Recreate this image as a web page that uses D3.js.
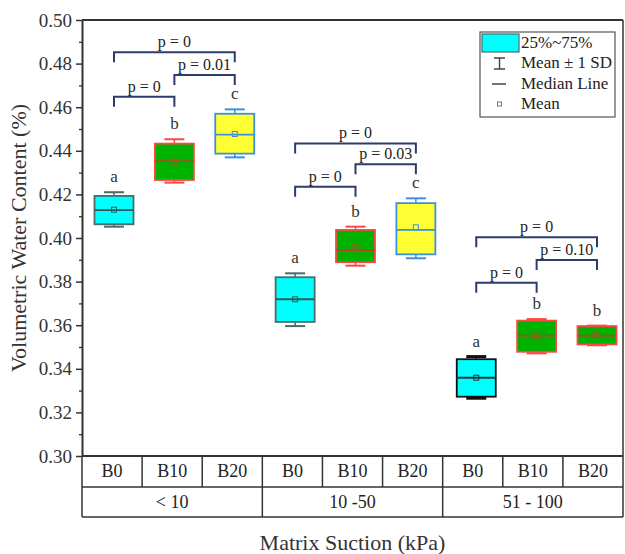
<!DOCTYPE html>
<html>
<head>
<meta charset="utf-8">
<script src="https://cdn.jsdelivr.net/npm/d3@7"></script>
<style>
body{margin:0;background:#fff;}
svg{display:block;}
</style>
</head>
<body>
<div id="chart"></div>
<script>
// ---- data ----
var groups=["< 10","10 -50","51 - 100"];
var treatments=["B0","B10","B20"];
var q1    =[0.4063,0.4266,0.4387, 0.3615,0.3889,0.3925, 0.3272,0.3478,0.3512];
var q3    =[0.4193,0.4433,0.4570, 0.3820,0.4037,0.4160, 0.3444,0.3621,0.3596];
var median=[0.4128,0.4353,0.4474, 0.3719,0.3945,0.4037, 0.3359,0.3552,0.3552];
var mean  =[0.4130,0.4350,0.4477, 0.3719,0.3960,0.4049, 0.3359,0.3552,0.3554];
var sdLow =[0.4052,0.4254,0.4370, 0.3596,0.3873,0.3907, 0.3265,0.3471,0.3508];
var sdHigh=[0.4210,0.4453,0.4590, 0.3838,0.4052,0.4182, 0.3456,0.3628,0.3598];
var letters=["a","b","c","a","b","c","a","b","b"];
// brackets: [from box, to box, level, text]
var brackets=[
  [0,1,0.4648,"p = 0"],[1,2,0.4748,"p = 0.01"],[0,2,0.4852,"p = 0"],
  [3,4,0.4235,"p = 0"],[4,5,0.4338,"p = 0.03"],[3,5,0.4434,"p = 0"],
  [6,7,0.3795,"p = 0"],[7,8,0.3899,"p = 0.10"],[6,8,0.4003,"p = 0"]
];
var yTicks=[0.30,0.32,0.34,0.36,0.38,0.40,0.42,0.44,0.46,0.48,0.50];
var legendItems=["25%~75%","Mean \u00b1 1 SD","Median Line","Mean"];

// styles per box
var fills  =["#00ffff","#00b300","#ffff33","#00ffff","#00b300","#ffff33","#00ffff","#00b300","#00b300"];
var strokes=["#4a6b6b","#ff4545","#3d8fe0","#4a6b6b","#ff4545","#3d8fe0","#111111","#ff4545","#ff4545"];
var inner  =["#2f5a5a","#b8442a","#3d8fe0","#2f5a5a","#b8442a","#3d8fe0","#1a3a3a","#b8442a","#b8442a"];

var serif="'Liberation Serif','Times New Roman',serif";
var width=625,height=554;
var pLeft=82,pRight=623,pTop=20,pBottom=456;
var svg=d3.select("#chart").append("svg").attr("width",width).attr("height",height);

var y=d3.scaleLinear().domain([0.30,0.50]).range([pBottom,pTop]);
var xCol=d3.scaleBand().domain(d3.range(9)).range([pLeft,pRight]);
var xGrp=d3.scaleBand().domain(d3.range(3)).range([pLeft,pRight]);
var xBox=d3.scalePoint().domain(d3.range(9)).range([114,597]);
var boxW=39,capW=20;

//==========axes===========
var minor=[];
for(var v=0.31;v<0.50;v+=0.02){minor.push(+v.toFixed(2));}
svg.append("g").attr("transform","translate("+pLeft+",0)")
  .call(d3.axisLeft(y).tickValues(minor).tickSize(3).tickFormat("").tickSizeOuter(0))
  .call(function(g){g.select(".domain").remove();g.selectAll("line").attr("stroke","#333").attr("stroke-width",1.3);});
var ax=svg.append("g").attr("transform","translate("+pLeft+",0)")
  .call(d3.axisLeft(y).tickValues(yTicks).tickFormat(d3.format(".2f")).tickSize(6).tickPadding(4).tickSizeOuter(0));
ax.select(".domain").attr("stroke","#333").attr("stroke-width",2);
ax.selectAll(".tick line").attr("stroke","#333").attr("stroke-width",1.5);
ax.selectAll(".tick text").attr("font-size",19).attr("fill","#333");

// frame
svg.append("line").attr("x1",pLeft).attr("x2",pRight).attr("y1",pTop).attr("y2",pTop).attr("stroke","#333").attr("stroke-width",2);
svg.append("line").attr("x1",pRight).attr("x2",pRight).attr("y1",pTop).attr("y2",517).attr("stroke","#333").attr("stroke-width",1.5);

//==========table under the axis===========
var row1=487,row2=517;
var tbl=svg.append("g").attr("stroke","#333").attr("stroke-width",1.5);
tbl.append("line").attr("x1",pLeft).attr("x2",pRight).attr("y1",pBottom).attr("y2",pBottom).attr("stroke-width",2);
tbl.append("line").attr("x1",pLeft).attr("x2",pRight).attr("y1",row1).attr("y2",row1);
tbl.append("line").attr("x1",pLeft).attr("x2",pRight).attr("y1",row2).attr("y2",row2);
tbl.append("line").attr("x1",pLeft).attr("x2",pLeft).attr("y1",pBottom).attr("y2",row2);
tbl.selectAll("line.c").data(d3.range(1,9)).enter().append("line")
  .attr("x1",function(d){return xCol(d);}).attr("x2",function(d){return xCol(d);})
  .attr("y1",pBottom).attr("y2",function(d){return d%3==0?row2:row1;});
svg.append("g").selectAll("text").data(d3.range(9)).enter().append("text")
  .attr("x",function(d){return xCol(d)+xCol.bandwidth()/2;}).attr("y",477)
  .attr("text-anchor","middle").attr("font-size",18).attr("fill","#222")
  .text(function(d){return treatments[d%3];});
svg.append("g").selectAll("text").data(groups).enter().append("text")
  .attr("x",function(d,i){return xGrp(i)+xGrp.bandwidth()/2;}).attr("y",508)
  .attr("text-anchor","middle").attr("font-size",18).attr("fill","#222")
  .text(function(d){return d;});

// titles
svg.append("text").attr("x",(pLeft+pRight)/2).attr("y",550).attr("text-anchor","middle")
  .attr("font-size",22).attr("fill","#333").text("Matrix Suction (kPa)");
svg.append("text").attr("transform","translate(26,"+((pTop+pBottom)/2)+") rotate(-90)")
  .attr("text-anchor","middle").attr("font-size",22).attr("fill","#333")
  .text("Volumetric Water Content (%)");

//==========boxes===========
var boxes=svg.append("g").selectAll("g").data(d3.range(9)).enter().append("g");
boxes.append("line")
  .attr("x1",function(i){return xBox(i);}).attr("x2",function(i){return xBox(i);})
  .attr("y1",function(i){return y(sdHigh[i]);}).attr("y2",function(i){return y(q3[i]);})
  .attr("stroke",function(i){return strokes[i];}).attr("stroke-width",1.5);
boxes.append("line")
  .attr("x1",function(i){return xBox(i);}).attr("x2",function(i){return xBox(i);})
  .attr("y1",function(i){return y(sdLow[i]);}).attr("y2",function(i){return y(q1[i]);})
  .attr("stroke",function(i){return strokes[i];}).attr("stroke-width",1.5);
boxes.append("line")
  .attr("x1",function(i){return xBox(i)-capW/2;}).attr("x2",function(i){return xBox(i)+capW/2;})
  .attr("y1",function(i){return y(sdHigh[i]);}).attr("y2",function(i){return y(sdHigh[i]);})
  .attr("stroke",function(i){return strokes[i];}).attr("stroke-width",function(i){return i==6?3:2;});
boxes.append("line")
  .attr("x1",function(i){return xBox(i)-capW/2;}).attr("x2",function(i){return xBox(i)+capW/2;})
  .attr("y1",function(i){return y(sdLow[i]);}).attr("y2",function(i){return y(sdLow[i]);})
  .attr("stroke",function(i){return strokes[i];}).attr("stroke-width",function(i){return i==6?3:2;});
boxes.append("rect")
  .attr("x",function(i){return xBox(i)-boxW/2;}).attr("width",boxW)
  .attr("y",function(i){return y(q3[i]);}).attr("height",function(i){return y(q1[i])-y(q3[i]);})
  .attr("fill",function(i){return fills[i];}).attr("stroke",function(i){return strokes[i];}).attr("stroke-width",1.8);
boxes.append("line")
  .attr("x1",function(i){return xBox(i)-boxW/2;}).attr("x2",function(i){return xBox(i)+boxW/2;})
  .attr("y1",function(i){return y(median[i]);}).attr("y2",function(i){return y(median[i]);})
  .attr("stroke",function(i){return inner[i];}).attr("stroke-width",1.8);
boxes.append("rect")
  .attr("x",function(i){return xBox(i)-2.5;}).attr("y",function(i){return y(mean[i])-2.5;})
  .attr("width",5).attr("height",5).attr("fill","none")
  .attr("stroke",function(i){return inner[i];}).attr("stroke-width",1);
boxes.append("text")
  .attr("x",function(i){return xBox(i);}).attr("y",function(i){return y(sdHigh[i])-10;})
  .attr("text-anchor","middle").attr("font-size",17).attr("fill","#333")
  .text(function(i){return letters[i];});

//==========significance brackets===========
var br=svg.append("g").selectAll("g").data(brackets).enter().append("g");
br.append("path")
  .attr("d",function(d){
    var x1=xBox(d[0]),x2=xBox(d[1]),yy=y(d[2]);
    return "M"+x1+","+(yy+10)+"V"+yy+"H"+x2+"V"+(yy+10);
  })
  .attr("fill","none").attr("stroke","#2c3d6b").attr("stroke-width",2);
br.append("text")
  .attr("x",function(d){return (xBox(d[0])+xBox(d[1]))/2;})
  .attr("y",function(d){return y(d[2])-5;})
  .attr("text-anchor","middle").attr("font-size",16).attr("fill","#222")
  .text(function(d){return d[3];});

//==========legend===========
var lg=svg.append("g").attr("transform","translate(480,32)");
lg.append("rect").attr("width",135).attr("height",85).attr("fill","#fff").attr("stroke","#555").attr("stroke-width",1.2);
lg.append("rect").attr("x",2).attr("y",2).attr("width",37).attr("height",18).attr("fill","#00ffff").attr("stroke","#4a6b6b").attr("stroke-width",1.2);
lg.append("path").attr("d","M14,26H25M19.5,26V37M14,37H25").attr("stroke","#444").attr("stroke-width",1.4).attr("fill","none");
lg.append("line").attr("x1",12).attr("x2",26).attr("y1",52).attr("y2",52).attr("stroke","#444").attr("stroke-width",1.5);
lg.append("rect").attr("x",17.5).attr("y",70).attr("width",4).attr("height",4).attr("fill","none").attr("stroke","#777").attr("stroke-width",1);
lg.selectAll("text").data(legendItems).enter().append("text")
  .attr("x",41).attr("y",function(d,i){return 16+i*20.3;})
  .attr("font-size",17).attr("fill","#222").text(function(d){return d;});

// serif everywhere (d3 axes default to sans-serif)
svg.selectAll("g").attr("font-family",null);
svg.selectAll("text").attr("font-family",serif).style("font-family",serif);
</script>
</body>
</html>
